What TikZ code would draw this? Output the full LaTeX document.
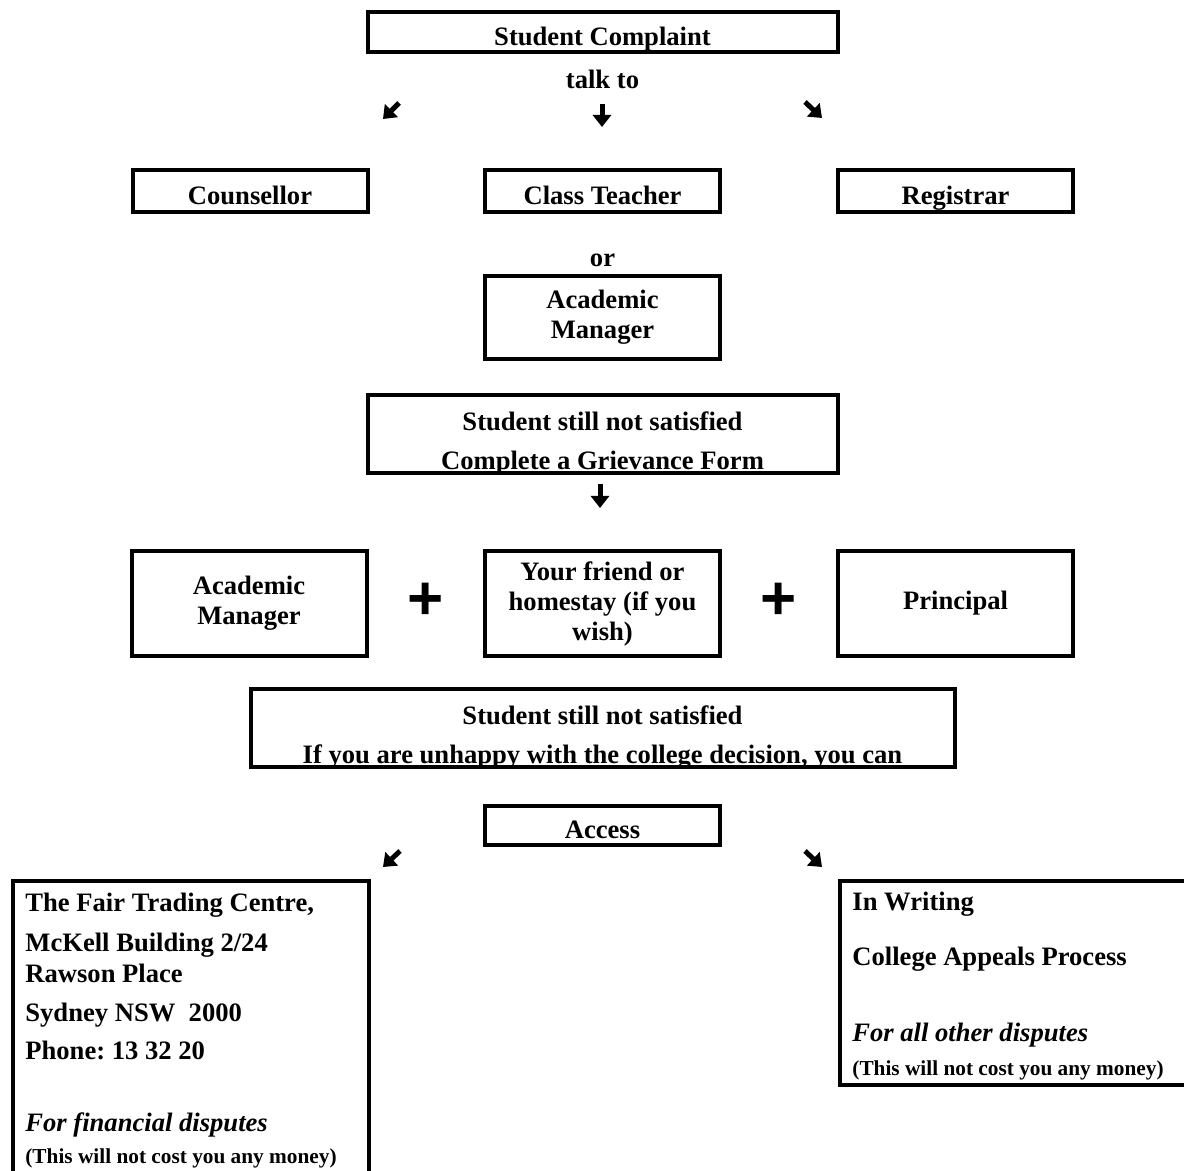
\documentclass[tikz,border=0pt]{standalone}
\usepackage{fontspec}
\setmainfont{Liberation Serif}
\newfontfamily\plusfont{Liberation Sans}
\usetikzlibrary{arrows.meta}

\begin{document}
\begin{tikzpicture}[x=0.5pt, y=-0.5pt,
    every node/.style={font=\fontsize{13.3}{15}\selectfont\bfseries},
    box/.style={draw, line width=2pt, minimum width=117.5pt, align=center, inner sep=2pt},
    oneline/.style={text height=12.6pt, text depth=0pt},
    twoline/.style={text height=35.1pt, text depth=0pt},
    word/.style={anchor=base, inner sep=0pt},
    line/.style={anchor=base west, inner sep=0pt},
    small/.style={font=\fontsize{10.65}{12}\selectfont\bfseries},
    plus/.style={font=\plusfont\fontsize{31}{31}\selectfont\bfseries, inner sep=0pt},
    glyph/.style={line width=2.5pt, -{Triangle[length=6pt, width=9pt]}}]
  \useasboundingbox (0,0) rectangle (1184,1171);

  % First contact
  \node[box, oneline, minimum width=235pt, minimum height=20pt] (complaint) at (602.5,32.5) {Student Complaint};
  \node[word] (talk) at (602.5,89) {talk to};
  \coordinate (tl0) at (399,103);
  \coordinate (tl1) at (383,119);
  \coordinate (tm0) at (602,104);
  \coordinate (tm1) at (602,127);
  \coordinate (tr0) at (805,102);
  \coordinate (tr1) at (822,118);
  \draw[glyph] (tl0) -- (tl1);
  \draw[glyph] (tm0) -- (tm1);
  \draw[glyph] (tr0) -- (tr1);

  \node[box, oneline, minimum height=21pt] (counsellor) at (250,191.5) {Counsellor};
  \node[box, oneline, minimum height=21pt] (teacher) at (602.5,191.5) {Class Teacher};
  \node[box, oneline, minimum height=21pt] (registrar) at (955.5,191.5) {Registrar};
  \node[word] (or) at (602.5,266.7) {or};
  \node[box, minimum height=41.5pt] (manager) at (602.5,317.5) {Academic\\Manager};

  % Grievance form
  \node[box, twoline, minimum width=235pt, minimum height=39pt] (grievance) at (602.5,434)
    {Student still not satisfied\\[4.5pt]Complete a Grievance Form};
  \coordinate (gm0) at (600,484);
  \coordinate (gm1) at (600,508);
  \draw[glyph] (gm0) -- (gm1);

  \node[box, minimum height=52pt] (manager2) at (249,603.5) {Academic\\Manager};
  \node[plus] (plus1) at (426,601) {+};
  \node[box, minimum height=52pt] (friend) at (602.5,603.5) {Your friend or\\homestay (if you\\wish)};
  \node[plus] (plus2) at (779,601) {+};
  \node[box, minimum height=52pt] (principal) at (955.5,603.5) {Principal};

  % Outside the college
  \node[box, twoline, minimum width=352pt, minimum height=38.5pt] (unhappy) at (602.5,728)
    {Student still not satisfied\\[4.5pt]If you are unhappy with the college decision, you can};
  \node[box, oneline, minimum height=19.5pt] (access) at (602.5,825.5) {Access};
  \coordinate (bl0) at (400,851);
  \coordinate (bl1) at (383,867);
  \coordinate (br0) at (805,851);
  \coordinate (br1) at (822,867);
  \draw[glyph] (bl0) -- (bl1);
  \draw[glyph] (br0) -- (br1);

  \node[box, anchor=north west, minimum width=177.75pt, minimum height=160pt] (fairtrading) at (11,878.5) {};
  \node[line] (ftc1) at (25,911.7) {The Fair Trading Centre,};
  \node[line] (ftc2) at (25,951.7) {McKell Building 2/24};
  \node[line] (ftc3) at (25,982.7) {Rawson Place};
  \node[line] (ftc4) at (25,1021.7) {Sydney NSW~~2000};
  \node[line] (ftc5) at (25,1059) {Phone:\ 13 32 20};
  \node[line] (ftc6) at (25,1131.7) {\itshape For financial disputes};
  \node[line, small] (ftc7) at (25,1163) {(This will not cost you any money)};

  \node[box, anchor=north west, minimum width=190pt, minimum height=102.25pt] (appeals) at (838.3,878.5) {};
  \node[line] (cap1) at (852,910) {In Writing};
  \node[line] (cap2) at (852,965) {College Appeals Process};
  \node[line] (cap3) at (852,1041.7) {\itshape For all other disputes};
  \node[line, small] (cap4) at (852,1075) {(This will not cost you any money)};
\end{tikzpicture}
\end{document}
